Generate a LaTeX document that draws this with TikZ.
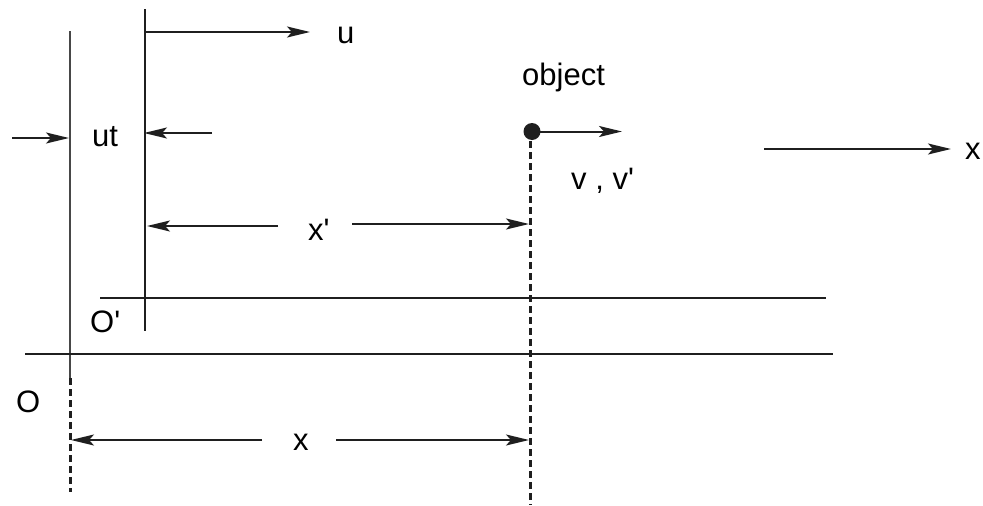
\documentclass[tikz,border=0pt]{standalone}
\usepackage{fontspec}
\setmainfont{Liberation Sans}
\usetikzlibrary{arrows.meta}
\begin{document}
\begin{tikzpicture}[x=1pt,y=-1pt,
  lbl/.style={inner sep=0pt, anchor=base west, font=\fontsize{31}{36}\selectfont},
  axisline/.style={line width=2.6pt, draw=black!88},
  arr/.style={line width=2pt, draw=black!88, -{Stealth[length=23pt,width=11pt,inset=5pt]}},
  dashline/.style={line width=3pt, draw=black!88, dash pattern=on 7pt off 4pt}]
\useasboundingbox (0,0) rectangle (983,506);
% frame lines
\coordinate (Otop) at (70,31);
\coordinate (Obot) at (70,378);
\coordinate (Odash) at (70,492);
\coordinate (Ptop) at (145,9);
\coordinate (Pbot) at (145,331);
\coordinate (Phl) at (100,298);
\coordinate (Phr) at (826,298);
\coordinate (Hl) at (25,354);
\coordinate (Hr) at (833,354);
\draw[axisline, draw=black!72] (Otop) -- (Obot);
\draw[dashline] (Obot) -- (Odash);
\draw[axisline] (Ptop) -- (Pbot);
\draw[axisline] (Phl) -- (Phr);
\draw[axisline] (Hl) -- (Hr);
% u arrow
\coordinate (uS) at (145,32);
\coordinate (uE) at (310,32);
\draw[arr] (uS) -- (uE);
\node[lbl] (ulbl) at (337,43.3) {u};
% ut arrows
\coordinate (utA) at (12,138);
\coordinate (utB) at (69,138);
\coordinate (utC) at (212,133);
\coordinate (utD) at (144,133);
\draw[arr] (utA) -- (utB);
\draw[arr] (utC) -- (utD);
\node[lbl] (utlbl) at (92,146.7) {ut};
% object
\node[circle, fill=black!88, inner sep=0pt, minimum size=17pt] (obj) at (532,131.5) {};
\coordinate (vE) at (622,131.5);
\draw[arr] (obj.center) -- (vE);
\node[lbl] (objlbl) at (522,85) {object};
\node[lbl] (vlbl) at (571,189.3) {v , v\textquotesingle};
\coordinate (dTop) at (530,141);
\coordinate (dBot) at (530,505);
\draw[dashline] (dTop) -- (dBot);
% x' arrows
\coordinate (xpL1) at (278,226);
\coordinate (xpL2) at (147,226);
\coordinate (xpR1) at (352,224);
\coordinate (xpR2) at (529,224);
\draw[arr] (xpL1) -- (xpL2);
\draw[arr] (xpR1) -- (xpR2);
\node[lbl] (xplbl) at (308,240) {x\textquotesingle};
% x arrows
\coordinate (xL1) at (262,440);
\coordinate (xL2) at (71,440);
\coordinate (xR1) at (336,440);
\coordinate (xR2) at (529,440);
\draw[arr] (xL1) -- (xL2);
\draw[arr] (xR1) -- (xR2);
\node[lbl] (xlbl) at (293,450.7) {x};
% x axis arrow
\coordinate (xa1) at (764,149);
\coordinate (xa2) at (951,149);
\draw[arr] (xa1) -- (xa2);
\node[lbl] (xalbl) at (965,159.3) {x};
% origins
\node[lbl] (Oplbl) at (90,332.7) {O\textquotesingle};
\node[lbl] (Olbl) at (16,412.7) {O};
\end{tikzpicture}
\end{document}
